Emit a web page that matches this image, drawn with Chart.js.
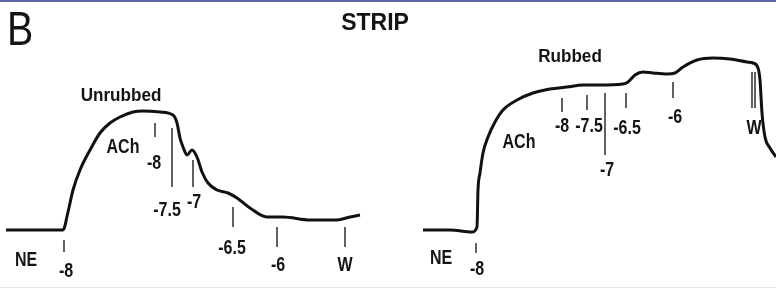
<!DOCTYPE html>
<html>
<head>
<meta charset="utf-8">
<script src="https://cdn.jsdelivr.net/npm/chart.js@4"></script>
<style>
  html, body { margin: 0; padding: 0; background: #fff; }
  #wrap { width: 776px; height: 290px; position: relative; }
</style>
</head>
<body>
<div id="wrap"><canvas id="trace" width="776" height="290"></canvas></div>
<script>
// time (chart units) and tension (units above NE-free baseline)
const unrubbedTime = [6, 40, 63, 68, 73, 80, 90, 100, 110, 120, 133, 143, 160, 173, 177, 180, 183, 187, 192, 197, 202, 208, 217, 228, 237, 250, 267, 283, 310, 337, 350, 360];
const unrubbedTension = [0, 0, 0, 18, 40, 60, 80, 97, 107, 113, 118, 119, 118, 115, 107, 92, 83, 75, 80, 73, 58, 47, 40, 37, 32, 22, 13, 13, 10, 10, 13, 15];

const rubbedTime = [423, 450, 472, 477, 478, 480, 483, 488, 495, 503, 517, 533, 550, 567, 583, 600, 623, 628, 635, 643, 653, 667, 675, 683, 697, 713, 730, 747, 753, 758, 760, 762, 765, 770, 776];
const rubbedTension = [0, 0, -2, 3, 40, 57, 77, 93, 108, 120, 130, 137, 141, 143, 145, 145, 146, 148, 155, 158, 157, 156, 157, 163, 170, 172, 171, 168, 167, 162, 150, 117, 93, 82, 73];

// drug addition markers: time, tension span of the tick line
const markerTime = [64, 155, 172, 193, 233, 277, 345, 476, 562, 587, 605, 626, 673, 752, 755];
const markerTop = [-10, 107, 102, 70, 23, 3, 3, -13, 132, 135, 137, 137, 148, 158, 158];
const markerBottom = [-22, 93, 43, 43, 3, -17, -17, -23, 118, 120, 75, 122, 132, 122, 122];

// text labels: text, time, tension
const labelText = ["NE", "-8", "ACh", "-8", "-7.5", "-7", "-6.5", "-6", "W", "Unrubbed",
                   "NE", "-8", "ACh", "-8", "-7.5", "-7", "-6.5", "-6", "W", "Rubbed"];
const labelTime = [26, 66, 123, 154, 167, 194, 232, 278, 345, 121,
                   441, 477, 519, 562, 589, 607, 627, 675, 754, 570];
const labelTension = [-30, -41, 83, 67, 20, 28, -18, -35, -35, 134,
                      -28, -39, 88, 104, 104, 60, 102, 113, 102, 173];

const FONT = "'Liberation Sans', Arial, sans-serif";

// condensed text, like the lettering on the original figure
function drawText(ctx, t, x, y, font, sx) {
  ctx.save();
  ctx.translate(x, y);
  ctx.scale(sx, 1);
  ctx.font = font;
  ctx.fillText(t, 0, 0);
  ctx.restore();
}

const labelsPlugin = {
  id: "labels",
  afterDatasetsDraw(chart) {
    const ctx = chart.ctx;
    const xs = chart.scales.x, ys = chart.scales.y;
    ctx.save();
    // frame strips from the scan
    ctx.fillStyle = "#5d67a9";
    ctx.fillRect(0, 0, 776, 2);
    ctx.fillStyle = "#e2e2e2";
    ctx.fillRect(0, 287, 776, 1);

    ctx.strokeStyle = "#3a3a3a";
    ctx.lineWidth = 1.6;
    for (let i = 0; i < markerTime.length; i++) {
      const x = xs.getPixelForValue(markerTime[i]);
      ctx.beginPath();
      ctx.moveTo(x, ys.getPixelForValue(markerTop[i]));
      ctx.lineTo(x, ys.getPixelForValue(markerBottom[i]));
      ctx.stroke();
    }

    ctx.fillStyle = "#141414";
    ctx.textAlign = "center";
    ctx.textBaseline = "middle";
    for (let i = 0; i < labelText.length; i++) {
      const t = labelText[i];
      const big = (t === "Unrubbed" || t === "Rubbed");
      drawText(ctx, t, xs.getPixelForValue(labelTime[i]), ys.getPixelForValue(labelTension[i]),
        "bold " + (big ? 18 : 20) + "px " + FONT, big ? 0.95 : 0.8);
    }

    ctx.textAlign = "left";
    ctx.textBaseline = "alphabetic";
    drawText(ctx, "B", 7, 45, "48px " + FONT, 0.82);
    ctx.textAlign = "center";
    drawText(ctx, "STRIP", 375, 30, "bold 23px " + FONT, 1);
    ctx.restore();
  }
};

new Chart(document.getElementById("trace"), {
  type: "line",
  data: {
    datasets: [
      {
        label: "Unrubbed",
        data: unrubbedTime.map((t, i) => ({ x: t, y: unrubbedTension[i] })),
        borderColor: "#111",
        borderWidth: 3,
        pointRadius: 0,
        cubicInterpolationMode: "monotone",
      },
      {
        label: "Rubbed",
        data: rubbedTime.map((t, i) => ({ x: t, y: rubbedTension[i] })),
        borderColor: "#111",
        borderWidth: 3,
        pointRadius: 0,
        cubicInterpolationMode: "monotone",
      },
    ],
  },
  options: {
    responsive: false,
    animation: false,
    layout: { padding: 0 },
    plugins: { legend: { display: false }, tooltip: { enabled: false } },
    scales: {
      x: { type: "linear", min: 0, max: 776, display: false },
      y: { type: "linear", min: -60, max: 230, display: false },
    },
  },
  plugins: [labelsPlugin],
});
</script>
</body>
</html>
